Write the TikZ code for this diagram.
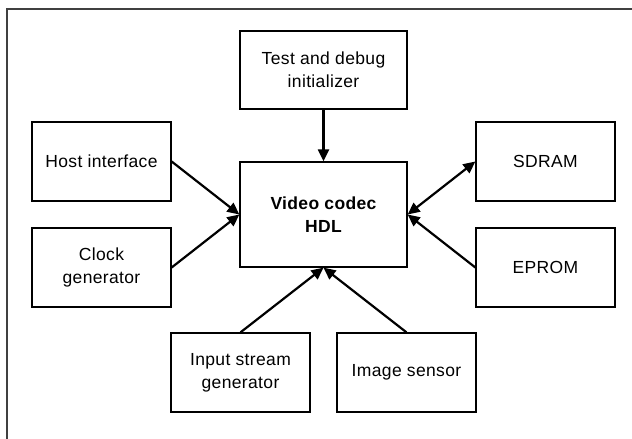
\documentclass[tikz,border=0pt]{standalone}
\usepackage{fontspec}
\setmainfont[LetterSpace=2]{Liberation Sans}
\usetikzlibrary{arrows.meta}
\begin{document}
\begin{tikzpicture}[x=1pt,y=-1pt,
  blk/.style={draw=black, line width=1.3pt, minimum width=139pt, minimum height=79pt,
    align=center, font=\fontsize{17.5}{23}\selectfont, inner sep=0pt},
  conn/.style={line width=2.2pt, -{Triangle[length=12pt,width=11pt]}},
  biconn/.style={line width=2.2pt, {Triangle[length=12pt,width=11pt]}-{Triangle[length=12pt,width=11pt]}}]
\useasboundingbox (0,0) rectangle (632,439);
\draw[line width=1.4pt, draw=black!75] (7,439) -- (7,9) -- (632,9);
\node[blk, minimum width=167pt, minimum height=78pt] (test) at (323.5,70) {Test and debug\\initializer};
\node[blk] (host) at (101.5,161.5) {Host interface};
\node[blk] (clock) at (101.5,267.5) {Clock\\generator};
\node[blk, minimum width=167pt, minimum height=105pt, font=\fontsize{17.5}{23}\selectfont\bfseries] (video) at (323.5,214.5) {Video codec\\HDL};
\node[blk] (sdram) at (545.5,161.5) {SDRAM};
\node[blk] (eprom) at (545.5,267.5) {EPROM};
\node[blk] (input) at (240.5,372.5) {Input stream\\generator};
\node[blk] (image) at (406.5,372.5) {Image sensor};
\draw[conn] (test.south) -- (video.north);
\draw[conn] (host.east) -- (video.west);
\draw[conn] (clock.east) -- (video.west);
\draw[biconn] (sdram.west) -- (video.east);
\draw[conn] (eprom.west) -- (video.east);
\draw[conn] (input.north) -- (video.south);
\draw[conn] (image.north) -- (video.south);
\end{tikzpicture}
\end{document}
